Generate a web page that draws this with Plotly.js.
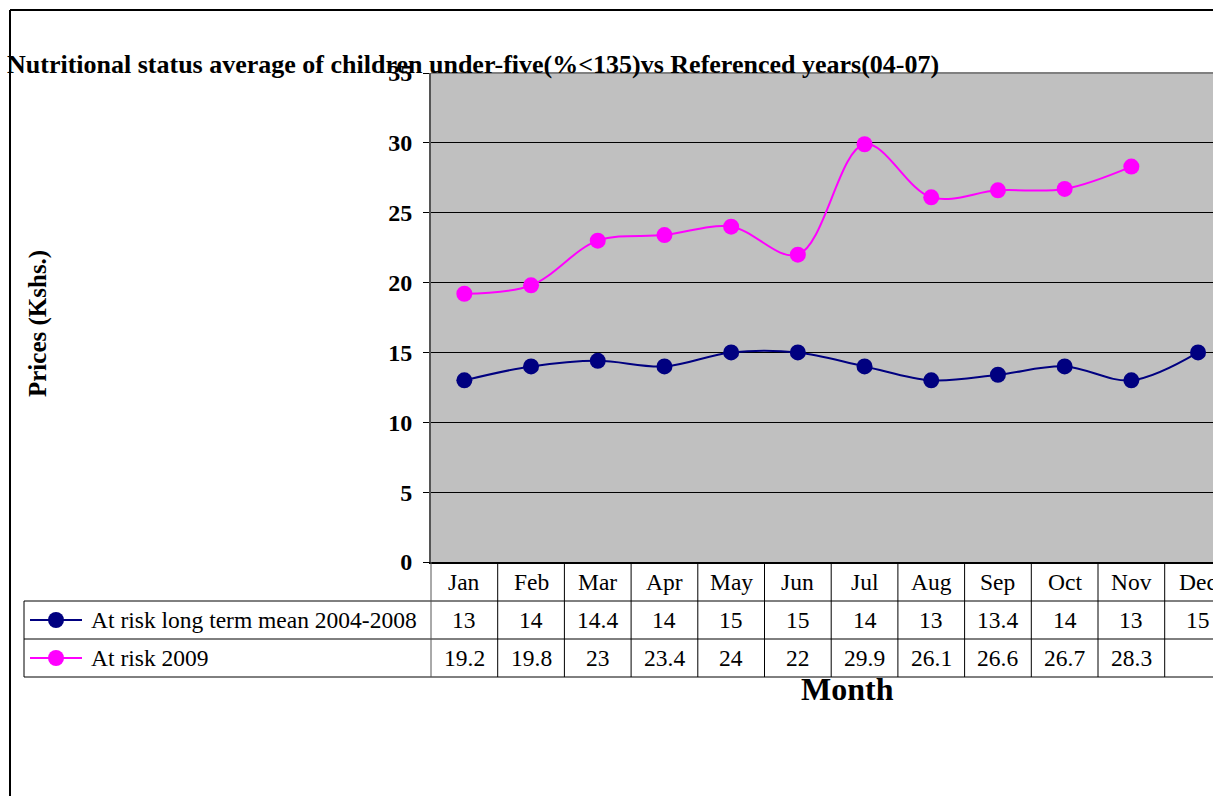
<!DOCTYPE html>
<html>
<head>
<meta charset="utf-8">
<script src="https://cdn.plot.ly/plotly-3.0.1.min.js"></script>
<style>html,body{margin:0;padding:0;background:#fff;}#chart{width:1213px;height:796px;}</style>
</head>
<body>
<div id="chart"></div>
<script>
const months = ['Jan','Feb','Mar','Apr','May','Jun','Jul','Aug','Sep','Oct','Nov','Dec'];
const longTermMean = [13, 14, 14.4, 14, 15, 15, 14, 13, 13.4, 14, 13, 15];
const risk2009 = [19.2, 19.8, 23, 23.4, 24, 22, 29.9, 26.1, 26.6, 26.7, 28.3, null];
const seriesNames = ['At risk long term mean 2004-2008', 'At risk 2009'];
const seriesColors = ['#000080', '#FF00FF'];
const seriesData = [longTermMean, risk2009];

const W = 1213, H = 796;
const L = 431, T = 73, B = 234, R = 0;
const plotW = W - L - R, plotH = H - T - B;
const colW = 66.7;
const px = x => (x - L) / plotW;          // pixel -> paper x
const py = y => (H - B - y) / plotH;      // pixel -> paper y

const serif = 'Liberation Serif, Times New Roman, serif';
const tableFont = {family: serif, size: 23.5, color: '#000'};

const traces = seriesData.map((d, k) => ({
  type: 'scatter', mode: 'lines+markers', x: months, y: d, name: seriesNames[k],
  line: {color: seriesColors[k], width: 2, shape: 'spline', smoothing: 1},
  marker: {color: seriesColors[k], size: 16, symbol: 'circle'},
  connectgaps: false, showlegend: false, cliponaxis: true
}));

const rowY = [py(582), py(620), py(658)];
const shapes = [];
const annotations = [];

// outer chart border
shapes.push({type:'line', xref:'paper', yref:'paper', x0:px(10), x1:px(W+5), y0:py(10), y1:py(10), line:{color:'#000', width:2}, layer:'above'});
shapes.push({type:'line', xref:'paper', yref:'paper', x0:px(10), x1:px(10), y0:py(10), y1:py(H+5), line:{color:'#000', width:2}, layer:'above'});
// plot area top border
shapes.push({type:'line', xref:'paper', yref:'paper', x0:0, x1:1, y0:1, y1:1, line:{color:'#808080', width:2}, layer:'above'});

// data table grid
[601, 639, 677].forEach(y => shapes.push({type:'line', xref:'paper', yref:'paper', x0:px(24), x1:1.01, y0:py(y), y1:py(y), line:{color:'#000', width:1}}));
shapes.push({type:'line', xref:'paper', yref:'paper', x0:px(24), x1:px(24), y0:py(601), y1:py(677), line:{color:'#000', width:1}});
shapes.push({type:'line', xref:'paper', yref:'paper', x0:0, x1:0, y0:py(562), y1:py(677), line:{color:'#555', width:1}});
for (let i = 1; i <= months.length; i++) {
  shapes.push({type:'line', xref:'x', yref:'paper', x0:i-0.5, x1:i-0.5, y0:py(562), y1:py(677), line:{color:'#000', width:1}});
}

// month labels and values
months.forEach((m, i) => {
  annotations.push({xref:'x', yref:'paper', x:m, y:rowY[0], xanchor:'center', yanchor:'middle', text:m, showarrow:false, font:tableFont});
  seriesData.forEach((d, k) => {
    if (d[i] !== null && d[i] !== undefined) {
      annotations.push({xref:'x', yref:'paper', x:m, y:rowY[k+1], xanchor:'center', yanchor:'middle', text:String(d[i]), showarrow:false, font:tableFont});
    }
  });
});

// legend keys in table
seriesNames.forEach((n, k) => {
  const yy = rowY[k+1];
  shapes.push({type:'line', xref:'paper', yref:'paper', x0:px(30), x1:px(82), y0:yy, y1:yy, line:{color:seriesColors[k], width:2}});
  shapes.push({type:'circle', xref:'paper', yref:'paper', xsizemode:'pixel', ysizemode:'pixel', xanchor:px(56), yanchor:yy, x0:-8, x1:8, y0:-8, y1:8, fillcolor:seriesColors[k], line:{color:seriesColors[k], width:0}});
  annotations.push({xref:'paper', yref:'paper', x:px(89), y:yy, xanchor:'left', yanchor:'middle', text:n, showarrow:false, font:tableFont});
});

// axis titles
annotations.push({xref:'paper', yref:'paper', x:px(38), y:py(323), xanchor:'center', yanchor:'middle', text:'Prices (Kshs.)', textangle:-90, showarrow:false, font:{family:serif, size:25, weight:'bold', color:'#000'}});
annotations.push({xref:'paper', yref:'paper', x:px(847), y:py(689), xanchor:'center', yanchor:'middle', text:'Month', showarrow:false, font:{family:serif, size:32, weight:'bold', color:'#000'}});

const layout = {
  width: W, height: H,
  margin: {l: L, r: R, t: T, b: B, pad: 0},
  paper_bgcolor: '#fff', plot_bgcolor: '#C0C0C0',
  showlegend: false,
  title: {text: 'Nutritional status average of children under-five(%<135)vs Referenced years(04-07)',
          x: 7 / W, xanchor: 'left', xref: 'container', y: 1 - 64 / H, yanchor: 'middle', yref: 'container',
          font: {family: serif, size: 26, weight: 'bold', color: '#000'}},
  xaxis: {type: 'category', categoryarray: months, range: [-0.5, (plotW / colW) - 0.5],
          showticklabels: false, ticks: '', showgrid: false, zeroline: false,
          showline: true, linecolor: '#000', linewidth: 2, fixedrange: true},
  yaxis: {range: [0, 35], dtick: 5, tick0: 0, showgrid: true, gridcolor: '#000', gridwidth: 1,
          zeroline: false, showline: true, linecolor: '#555', linewidth: 2,
          ticks: 'outside', ticklen: 6, tickcolor: '#000', tickwidth: 1, ticklabelstandoff: 6,
          tickfont: {family: serif, size: 24, weight: 'bold', color: '#000'}, fixedrange: true},
  shapes: shapes,
  annotations: annotations
};

Plotly.newPlot('chart', traces, layout, {displayModeBar: false, staticPlot: true});
</script>
</body>
</html>
